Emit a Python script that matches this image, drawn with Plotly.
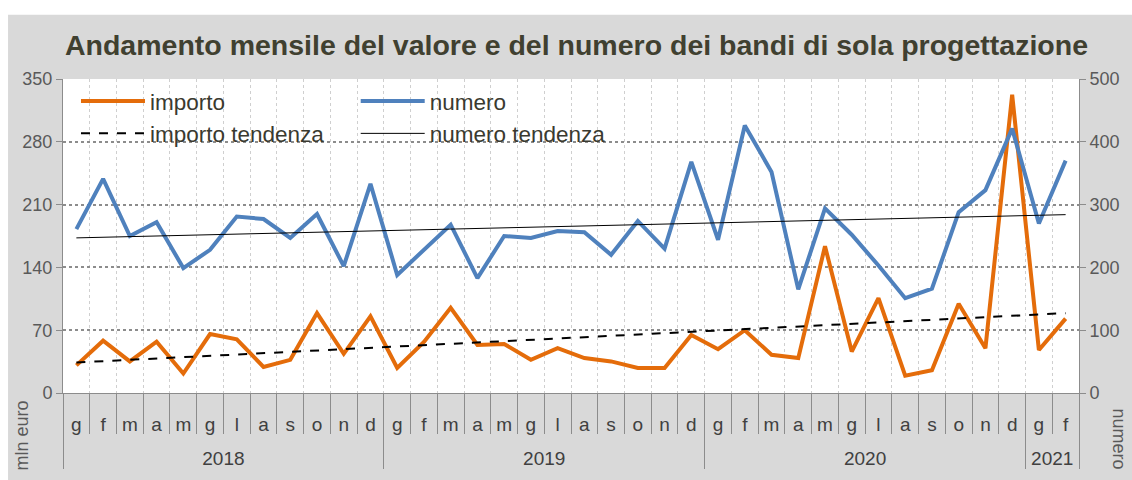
import plotly.graph_objects as go

# ---- data ----
years = ["2018"] * 12 + ["2019"] * 12 + ["2020"] * 12 + ["2021"] * 2
month_keys = ["g", "f", "m", "a", "m\u200b", "g\u200b", "l", "a\u200b", "s", "o", "n", "d"]
months = month_keys * 3 + ["g", "f"]

importo = [30.8, 58.3, 35.2, 57.2, 21.7, 65.7, 59.8, 29.0, 37.0, 89.1, 43.7, 85.5,
           28.0, 57.0, 95.0, 53.6, 54.7, 37.0, 49.9, 38.9, 35.2, 27.9, 27.9, 64.6,
           48.8, 70.0, 42.6, 38.9, 163.6, 46.2, 105.7, 19.4, 25.3, 99.4, 49.9, 332.4,
           48.0, 82.9]
numero = [261, 341, 250, 272, 199, 228, 281, 277, 247, 285, 202, 333,
          188, 227, 268, 183, 250, 247, 258, 256, 220, 274, 230, 368,
          244, 426, 352, 165, 294, 252, 203, 151, 166, 288, 323, 421,
          270, 370]

trend_years = ["2018", "2021"]
trend_months = ["g", "f"]
importo_trend = [34, 89]
numero_trend = [247, 284]

title_text = "Andamento mensile del valore e del numero dei bandi di sola progettazione"

ORANGE = "#E46C0A"
BLUE = "#4F81BD"
TXT = "#595959"
FONT = "Liberation Sans"

# figure geometry (px)
W, H = 1132, 480
L, R, T, B = 63, 52, 79, 83
PW, PH = W - L - R, H - T - B


def px_x(v):
    return (v - L) / PW


def px_y(v):
    return (H - B - v) / PH


def year_lab(ys):
    # year row sits one line lower than the month row
    return ["<br>" + y for y in ys]


fig = go.Figure()
x = [year_lab(years), months]
tx = [year_lab(trend_years), trend_months]
fig.add_trace(go.Scatter(x=x, y=importo, mode="lines", name="importo",
                         line=dict(color=ORANGE, width=4), legend="legend", legendgroup="a"))
fig.add_trace(go.Scatter(x=tx, y=importo_trend, mode="lines", name="importo tendenza",
                         line=dict(color="black", width=2, dash="dash"), legend="legend", legendgroup="b"))
fig.add_trace(go.Scatter(x=x, y=numero, mode="lines", name="numero", yaxis="y2",
                         line=dict(color=BLUE, width=4), legend="legend2", legendgroup="c"))
fig.add_trace(go.Scatter(x=tx, y=numero_trend, mode="lines", name="numero tendenza", yaxis="y2",
                         line=dict(color="black", width=1), legend="legend2", legendgroup="d"))

legend_common = dict(bgcolor="rgba(0,0,0,0)", font=dict(family=FONT, size=22.5, color="#3a3a30"),
                     orientation="v", xanchor="left", yanchor="top", tracegroupgap=0, itemwidth=64)

fig.update_layout(
    width=W, height=H,
    margin=dict(l=L, r=R, t=T, b=B),
    paper_bgcolor="white",
    plot_bgcolor="white",
    title=dict(text="<b>" + title_text + "</b>", x=576.5 / W, xanchor="center", y=1 - 45 / H, yanchor="middle",
               font=dict(family=FONT, size=28.5, color="#404030")),
    legend=dict(x=px_x(76), y=px_y(80), **legend_common),
    legend2=dict(x=px_x(356), y=px_y(80), **legend_common),
    xaxis=dict(type="multicategory", range=[-0.5, 37.5], showline=True, linecolor="#8c8c8c", linewidth=1,
               ticks="outside", ticklen=40, tickcolor="#8c8c8c", tickson="boundaries",
               ticklabelstandoff=14,
               showgrid=True, gridcolor="#cfcfcf", griddash="dot", gridwidth=1,
               showdividers=True, dividercolor="#8c8c8c", dividerwidth=1,
               tickfont=dict(family=FONT, size=19, color="#404040")),
    yaxis=dict(range=[0, 350], dtick=70, showline=True, linecolor="#8c8c8c",
               ticks="outside", ticklen=6, tickcolor="#8c8c8c",
               showgrid=True, gridcolor="#8c8c8c", griddash="dot", gridwidth=1.5,
               zeroline=False,
               tickfont=dict(family=FONT, size=18, color=TXT)),
    yaxis2=dict(range=[0, 500], dtick=100, overlaying="y", side="right", showline=True,
                linecolor="#8c8c8c", ticks="outside", ticklen=6, tickcolor="#8c8c8c",
                showgrid=False, zeroline=False,
                tickfont=dict(family=FONT, size=18, color=TXT)),
    shapes=[
        dict(type="rect", xref="paper", yref="paper", layer="below",
             x0=px_x(8), x1=px_x(W + 10), y0=-0.6, y1=px_y(14),
             fillcolor="#d9d9d9", line=dict(width=0)),
        dict(type="rect", xref="paper", yref="paper", layer="below",
             x0=0, x1=1, y0=0, y1=1, fillcolor="white", line=dict(width=0)),
    ],
    annotations=[
        dict(text="mln euro", xref="paper", yref="paper", x=px_x(22), y=px_y(440),
             xanchor="center", yanchor="middle",
             textangle=-90, showarrow=False, font=dict(family=FONT, size=18, color=TXT)),
        dict(text="numero", xref="paper", yref="paper", x=px_x(1120), y=px_y(444),
             xanchor="center", yanchor="middle",
             textangle=90, showarrow=False, font=dict(family=FONT, size=18, color=TXT)),
    ],
)

fig.write_html("out.html", config={"displayModeBar": False},
               post_script="document.body.style.margin='0';document.body.style.overflow='hidden';")
